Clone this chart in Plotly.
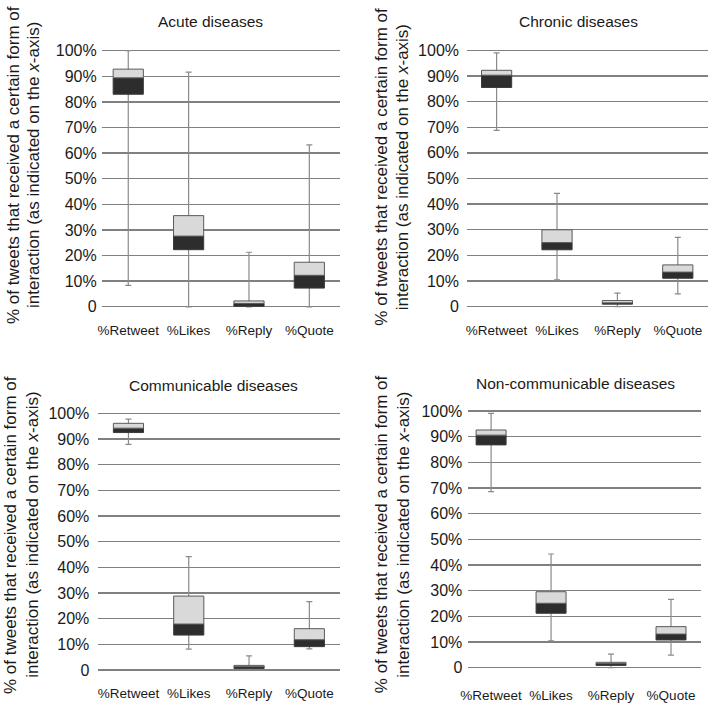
import plotly.graph_objects as go

cats = ["%Retweet", "%Likes", "%Reply", "%Quote"]
y_tick_vals = [0, 10, 20, 30, 40, 50, 60, 70, 80, 90, 100]
y_tick_text = ["0", "10%", "20%", "30%", "40%", "50%", "60%", "70%", "80%", "90%", "100%"]

# Acute diseases
acute_min = [8.4, 0.0, 0.0, 0.0]
acute_q1 = [83.0, 22.3, 0.2, 7.3]
acute_med = [89.4, 27.6, 1.3, 12.3]
acute_q3 = [92.8, 35.6, 2.3, 17.4]
acute_max = [100.0, 91.6, 21.3, 63.2]

# Chronic diseases
chronic_min = [68.8, 10.5, 0.0, 5.0]
chronic_q1 = [85.5, 22.2, 1.0, 11.1]
chronic_med = [90.3, 25.0, 1.5, 13.5]
chronic_q3 = [92.2, 30.0, 2.4, 16.3]
chronic_max = [99.0, 44.2, 5.3, 27.0]

# Communicable diseases
comm_min = [87.9, 8.1, 0.3, 8.2]
comm_q1 = [92.5, 13.6, 0.6, 9.1]
comm_med = [94.2, 17.9, 1.3, 11.8]
comm_q3 = [96.1, 28.8, 1.8, 16.1]
comm_max = [97.7, 44.2, 5.5, 26.6]

# Non-communicable diseases
noncomm_min = [68.6, 10.5, 0.0, 4.9]
noncomm_q1 = [86.8, 21.2, 0.9, 10.8]
noncomm_med = [90.6, 25.1, 1.6, 13.1]
noncomm_q3 = [92.6, 29.6, 2.1, 16.0]
noncomm_max = [99.1, 44.3, 5.3, 26.6]

W, H = 709, 703
FONT = "Liberation Sans, Arial, sans-serif"

panels = [
    dict(title="Acute diseases",
         data=(acute_min, acute_q1, acute_med, acute_q3, acute_max),
         gx0=101.7, gx1=339.5, xr0=-0.44, y100=50.7, y0=306.8,
         tx=210, ty=21.7, l1x=13, l2x=33, lyc=165, xstand=9, ystand=4),
    dict(title="Chronic diseases",
         data=(chronic_min, chronic_q1, chronic_med, chronic_q3, chronic_max),
         gx0=467, gx1=708, xr0=-0.49, y100=50.3, y0=306.7,
         tx=578.7, ty=21.7, l1x=381.7, l2x=403.3, lyc=167, xstand=9, ystand=7),
    dict(title="Communicable diseases",
         data=(comm_min, comm_q1, comm_med, comm_q3, comm_max),
         gx0=98.3, gx1=339.5, xr0=-0.5, y100=413.3, y0=670,
         tx=213.3, ty=385, l1x=10, l2x=31.7, lyc=535, xstand=8, ystand=8),
    dict(title="Non-communicable diseases",
         data=(noncomm_min, noncomm_q1, noncomm_med, noncomm_q3, noncomm_max),
         gx0=468.3, gx1=701, xr0=-0.38, y100=411, y0=667.7,
         tx=575.3, ty=383.3, l1x=381.7, l2x=403.3, lyc=534.5, xstand=13, ystand=5),
]

fig = go.Figure()
layout = dict(
    template="none",
    width=W, height=H, autosize=False,
    margin=dict(l=0, r=0, t=0, b=0, pad=0),
    paper_bgcolor="white", plot_bgcolor="white",
    barmode="overlay", showlegend=False,
    font=dict(family=FONT, color="#1a1a1a"),
)
annotations = []

for i, p in enumerate(panels):
    n = "" if i == 0 else str(i + 1)
    xa, ya = "x" + n, "y" + n
    mn, q1, md, q3, mx = p["data"]
    lower_h = [b - a for a, b in zip(q1, md)]
    upper_h = [b - a for a, b in zip(md, q3)]
    whisk = [b - a for a, b in zip(mn, mx)]

    fig.add_trace(go.Bar(
        x=cats, y=[0] * len(cats), base=mn, width=0.5, xaxis=xa, yaxis=ya,
        marker=dict(color="rgba(0,0,0,0)", line=dict(width=0)),
        error_y=dict(type="data", symmetric=False, array=whisk,
                     arrayminus=[0] * len(cats), color="#8a8a8a",
                     thickness=1.2, width=3),
        hoverinfo="skip", cliponaxis=False))
    fig.add_trace(go.Bar(
        x=cats, y=lower_h, base=q1, width=0.5, xaxis=xa, yaxis=ya,
        marker=dict(color="#2d2d2d", line=dict(color="#3a3a3a", width=1))))
    fig.add_trace(go.Bar(
        x=cats, y=upper_h, base=md, width=0.5, xaxis=xa, yaxis=ya,
        marker=dict(color="#d9d9d9", line=dict(color="#5a5a5a", width=1))))

    k = (p["y0"] - p["y100"]) / 100.0
    top_px = p["y100"] - 2 * k
    bot_px = p["y0"] + 2 * k
    xkey = "xaxis" + n
    ykey = "yaxis" + n
    layout[xkey] = dict(
        domain=[p["gx0"] / W, p["gx1"] / W], anchor=ya,
        range=[p["xr0"], 3.5], type="category", automargin=False,
        showgrid=False, showline=False, zeroline=False, ticks="",
        tickfont=dict(size=13.5, family=FONT, color="#1a1a1a"),
        ticklabelstandoff=p["xstand"], fixedrange=True)
    layout[ykey] = dict(
        domain=[1 - bot_px / H, 1 - top_px / H], anchor=xa,
        range=[-2, 102], tickvals=y_tick_vals, ticktext=y_tick_text,
        automargin=False,
        showgrid=True, gridcolor="#808080", gridwidth=1.4,
        showline=False, zeroline=False, ticks="",
        tickfont=dict(size=16, family=FONT, color="#1a1a1a"),
        ticklabelstandoff=p["ystand"], fixedrange=True)

    annotations.append(dict(
        text=p["title"], x=p["tx"] / W, y=1 - p["ty"] / H,
        xref="paper", yref="paper", showarrow=False,
        xanchor="center", yanchor="middle",
        font=dict(size=15.5, family=FONT, color="#1a1a1a")))
    annotations.append(dict(
        text="% of tweets that received a certain form of",
        x=p["l1x"] / W, y=1 - p["lyc"] / H, textangle=-90,
        xref="paper", yref="paper", showarrow=False,
        xanchor="center", yanchor="middle",
        font=dict(size=17, family=FONT, color="#1a1a1a")))
    annotations.append(dict(
        text="interaction (as indicated on the <i>x</i>-axis)",
        x=p["l2x"] / W, y=1 - p["lyc"] / H, textangle=-90,
        xref="paper", yref="paper", showarrow=False,
        xanchor="center", yanchor="middle",
        font=dict(size=17, family=FONT, color="#1a1a1a")))

layout["annotations"] = annotations
fig.update_layout(**layout)
fig.write_html(
    "out.html",
    config={"displayModeBar": False, "staticPlot": True},
    post_script="document.body.style.margin='0';document.body.style.padding='0';document.body.style.overflow='hidden';",
)
